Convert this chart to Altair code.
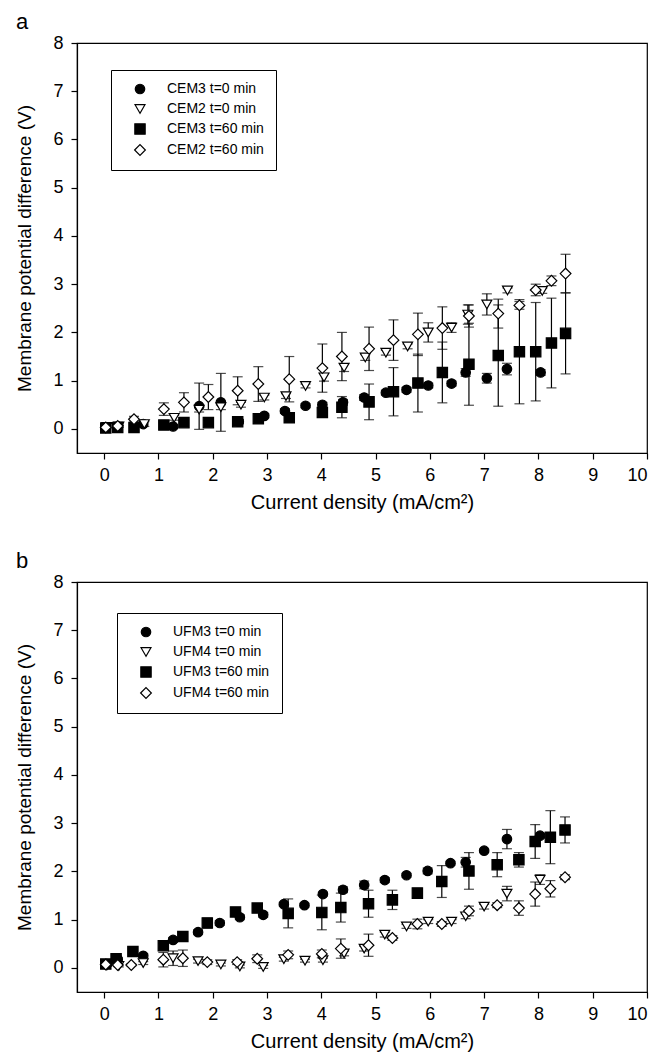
import altair as alt
import pandas as pd

FONT = "Liberation Sans"

# ---------------- Panel a ----------------
A_NAMES = ["CEM3 t=0 min", "CEM2 t=0 min", "CEM3 t=60 min", "CEM2 t=60 min"]

A_CEM3_T0_X = [0.03, 0.25, 0.72, 1.27, 1.75, 2.15, 2.48, 2.95, 3.33, 3.71, 4.02, 4.40, 4.79, 5.19, 5.57, 5.97, 6.40, 6.66, 7.05, 7.42, 8.04]
A_CEM3_T0_Y = [0.03, 0.05, 0.10, 0.05, 0.47, 0.55, 0.15, 0.27, 0.37, 0.48, 0.50, 0.55, 0.65, 0.75, 0.81, 0.90, 0.94, 1.17, 1.05, 1.24, 1.17]
A_CEM3_T0_E = [0.02, 0.02, 0.03, 0.03, 0.48, 0.60, 0.04, 0.04, 0.05, 0.04, 0.05, 0.06, 0.06, 0.05, 0.05, 0.05, 0.05, 0.08, 0.10, 0.12, 0.06]

A_CEM2_T0_X = [0.05, 0.27, 0.74, 1.29, 1.75, 2.15, 2.52, 2.95, 3.35, 3.71, 4.05, 4.42, 4.81, 5.19, 5.59, 5.97, 6.40, 6.70, 7.05, 7.43, 8.07]
A_CEM2_T0_Y = [0.04, 0.05, 0.10, 0.23, 0.40, 0.45, 0.50, 0.65, 0.68, 0.89, 1.07, 1.27, 1.48, 1.58, 1.71, 2.00, 2.10, 2.37, 2.58, 2.87, 2.86]
A_CEM2_T0_E = [0.02, 0.02, 0.05, 0.05, 0.05, 0.05, 0.05, 0.05, 0.05, 0.04, 0.08, 0.08, 0.06, 0.05, 0.05, 0.20, 0.10, 0.20, 0.22, 0.05, 0.05]

A_CEM3_T60_X = [0.03, 0.25, 0.55, 1.10, 1.47, 1.92, 2.46, 2.84, 3.41, 4.02, 4.38, 4.88, 5.33, 5.78, 6.23, 6.72, 7.26, 7.65, 7.95, 8.24, 8.50]
A_CEM3_T60_Y = [0.02, 0.03, 0.03, 0.08, 0.13, 0.13, 0.15, 0.21, 0.23, 0.34, 0.45, 0.56, 0.77, 0.95, 1.17, 1.34, 1.52, 1.60, 1.60, 1.78, 1.98]
A_CEM3_T60_E = [0.02, 0.02, 0.03, 0.05, 0.05, 0.05, 0.05, 0.05, 0.05, 0.08, 0.22, 0.37, 0.50, 0.60, 0.63, 0.85, 1.05, 1.08, 1.02, 0.93, 0.84]

A_CEM2_T60_X = [0.03, 0.25, 0.55, 1.10, 1.47, 1.92, 2.46, 2.84, 3.41, 4.02, 4.38, 4.88, 5.33, 5.78, 6.23, 6.72, 7.26, 7.65, 7.95, 8.24, 8.50]
A_CEM2_T60_Y = [0.03, 0.06, 0.20, 0.41, 0.55, 0.66, 0.79, 0.93, 1.03, 1.26, 1.50, 1.66, 1.84, 1.96, 2.09, 2.34, 2.39, 2.56, 2.88, 3.07, 3.22]
A_CEM2_T60_E = [0.02, 0.02, 0.06, 0.13, 0.20, 0.26, 0.29, 0.36, 0.47, 0.50, 0.50, 0.45, 0.42, 0.44, 0.44, 0.23, 0.30, 0.08, 0.12, 0.10, 0.40]

# ---------------- Panel b ----------------
B_NAMES = ["UFM3 t=0 min", "UFM4 t=0 min", "UFM3 t=60 min", "UFM4 t=60 min"]

B_UFM3_T0_X = [0.05, 0.25, 0.72, 1.27, 1.73, 2.13, 2.50, 2.93, 3.31, 3.69, 4.03, 4.40, 4.79, 5.17, 5.57, 5.96, 6.38, 6.66, 7.00, 7.42, 8.03]
B_UFM3_T0_Y = [0.08, 0.18, 0.25, 0.58, 0.74, 0.93, 1.05, 1.10, 1.32, 1.30, 1.53, 1.62, 1.72, 1.82, 1.92, 2.01, 2.17, 2.19, 2.43, 2.67, 2.74]
B_UFM3_T0_E = [0.03, 0.03, 0.04, 0.05, 0.05, 0.05, 0.05, 0.05, 0.04, 0.04, 0.04, 0.06, 0.08, 0.05, 0.04, 0.06, 0.04, 0.10, 0.03, 0.20, 0.05]

B_UFM4_T0_X = [0.05, 0.27, 0.72, 1.27, 1.73, 2.15, 2.50, 2.93, 3.31, 3.70, 4.03, 4.42, 4.79, 5.17, 5.57, 5.97, 6.40, 6.66, 7.00, 7.42, 8.03]
B_UFM4_T0_Y = [0.05, 0.04, 0.10, 0.20, 0.14, 0.07, 0.03, 0.02, 0.18, 0.15, 0.16, 0.30, 0.40, 0.69, 0.86, 0.96, 0.96, 1.07, 1.27, 1.54, 1.83]
B_UFM4_T0_E = [0.02, 0.02, 0.03, 0.15, 0.04, 0.03, 0.03, 0.03, 0.04, 0.03, 0.04, 0.05, 0.05, 0.05, 0.04, 0.04, 0.04, 0.05, 0.05, 0.15, 0.10]

B_UFM3_T60_X = [0.03, 0.22, 0.53, 1.09, 1.45, 1.90, 2.42, 2.82, 3.39, 4.01, 4.36, 4.87, 5.31, 5.77, 6.22, 6.72, 7.24, 7.64, 7.94, 8.22, 8.49]
B_UFM3_T60_Y = [0.08, 0.19, 0.34, 0.46, 0.65, 0.93, 1.16, 1.24, 1.13, 1.15, 1.25, 1.33, 1.41, 1.55, 1.79, 2.01, 2.14, 2.24, 2.62, 2.71, 2.86]
B_UFM3_T60_E = [0.02, 0.03, 0.05, 0.05, 0.05, 0.10, 0.08, 0.06, 0.30, 0.36, 0.30, 0.28, 0.20, 0.10, 0.33, 0.38, 0.25, 0.15, 0.35, 0.55, 0.27]

B_UFM4_T60_X = [0.03, 0.25, 0.50, 1.09, 1.45, 1.90, 2.45, 2.82, 3.39, 4.01, 4.36, 4.87, 5.31, 5.77, 6.22, 6.72, 7.24, 7.64, 7.94, 8.22, 8.49]
B_UFM4_T60_Y = [0.07, 0.06, 0.06, 0.17, 0.20, 0.12, 0.12, 0.19, 0.27, 0.29, 0.40, 0.47, 0.62, 0.91, 0.91, 1.18, 1.30, 1.24, 1.53, 1.64, 1.88]
B_UFM4_T60_E = [0.02, 0.02, 0.02, 0.15, 0.17, 0.05, 0.05, 0.08, 0.08, 0.08, 0.20, 0.23, 0.05, 0.10, 0.05, 0.10, 0.05, 0.15, 0.25, 0.17, 0.05]

X_TICKS = list(range(0, 11))
Y_TICKS = list(range(0, 9))
X_TITLE = "Current density (mA/cm²)"
Y_TITLE = "Membrane potential difference (V)"

SHAPES = ["circle", "triangle-down", "square", "diamond"]
FILLS = ["black", "white", "black", "white"]
STROKES = ["black", "black", "black", "black"]
SIZES = [90, 115, 80, 140]


def make_df(names, series):
    rows = []
    for name, (xs, ys, es) in zip(names, series):
        for x, y, e in zip(xs, ys, es):
            rows.append({"series": name, "x": x, "y": y, "lo": y - e, "hi": y + e})
    return pd.DataFrame(rows)


def panel(names, series, letter, lx, ly):
    df = make_df(names, series)
    base = alt.Chart(df)
    xenc = alt.X("x:Q", scale=alt.Scale(domain=[-0.5, 10], nice=False, zero=False),
                 axis=alt.Axis(values=X_TICKS, title=X_TITLE, format="d"))
    yscale = alt.Scale(domain=[-0.5, 8], nice=False, zero=False)
    yaxis = alt.Axis(values=Y_TICKS, title=Y_TITLE, format="d")

    legend = alt.Legend(
        title=None, orient="none", legendX=lx, legendY=ly,
        strokeColor="black", fillColor="white", padding=12,
        symbolOffset=10, labelOffset=20, rowPadding=5,
        labelFontSize=14, labelFont=FONT, labelColor="black",
        symbolStrokeWidth=1.2,
    )

    rules = base.mark_rule(color="black", strokeWidth=1.2).encode(
        x=xenc, y=alt.Y("lo:Q", scale=yscale, axis=yaxis), y2="hi:Q")
    cap_lo = base.mark_tick(orient="horizontal", color="black", size=10, thickness=1.2).encode(
        x=xenc, y=alt.Y("lo:Q", scale=yscale, axis=yaxis))
    cap_hi = base.mark_tick(orient="horizontal", color="black", size=10, thickness=1.2).encode(
        x=xenc, y=alt.Y("hi:Q", scale=yscale, axis=yaxis))
    pts = base.mark_point(filled=True, opacity=1, strokeWidth=1.2).encode(
        x=xenc,
        y=alt.Y("y:Q", scale=yscale, axis=yaxis),
        shape=alt.Shape("series:N", scale=alt.Scale(domain=names, range=SHAPES), legend=legend),
        fill=alt.Fill("series:N", scale=alt.Scale(domain=names, range=FILLS), legend=legend),
        stroke=alt.Stroke("series:N", scale=alt.Scale(domain=names, range=STROKES), legend=legend),
        size=alt.Size("series:N", scale=alt.Scale(domain=names, range=SIZES), legend=legend),
    )
    return alt.layer(rules, cap_lo, cap_hi, pts).properties(
        width=570, height=410,
        title=alt.TitleParams(text=letter, anchor="start", fontSize=22, fontWeight="normal",
                              font=FONT, color="black", offset=0),
    )


top = panel(A_NAMES, [(A_CEM3_T0_X, A_CEM3_T0_Y, A_CEM3_T0_E),
                      (A_CEM2_T0_X, A_CEM2_T0_Y, A_CEM2_T0_E),
                      (A_CEM3_T60_X, A_CEM3_T60_Y, A_CEM3_T60_E),
                      (A_CEM2_T60_X, A_CEM2_T60_Y, A_CEM2_T60_E)], "a", 34, 27)
bottom = panel(B_NAMES, [(B_UFM3_T0_X, B_UFM3_T0_Y, B_UFM3_T0_E),
                         (B_UFM4_T0_X, B_UFM4_T0_Y, B_UFM4_T0_E),
                         (B_UFM3_T60_X, B_UFM3_T60_Y, B_UFM3_T60_E),
                         (B_UFM4_T60_X, B_UFM4_T60_Y, B_UFM4_T60_E)], "b", 40, 31)

chart = alt.vconcat(top, bottom, spacing=36).resolve_scale(
    shape="independent", fill="independent", size="independent", stroke="independent"
).resolve_legend(
    shape="independent", fill="independent", size="independent", stroke="independent"
).properties(
    padding={"left": 7, "top": 2, "right": 0, "bottom": 0}
).configure_axis(
    domainColor="black", domainWidth=1.2, tickColor="black", tickWidth=1.2, tickSize=6,
    labelColor="black", titleColor="black", grid=False,
    labelFont=FONT, titleFont=FONT, labelFontSize=18,
    titleFontWeight="normal",
).configure_axisX(titlePadding=8, labelPadding=7, titleFontSize=20).configure_axisY(
    titlePadding=18, labelPadding=8, titleFontSize=19
).configure_view(
    stroke="black", strokeWidth=1.2
)

chart.save("out.html", embed_options={"renderer": "svg", "actions": False})
